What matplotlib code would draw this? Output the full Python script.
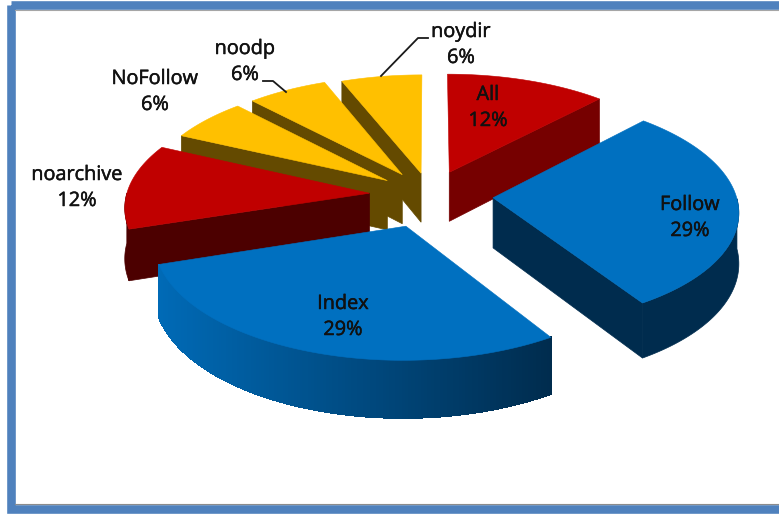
import numpy as np
import matplotlib
matplotlib.use("Agg")
import matplotlib.pyplot as plt
import matplotlib.patheffects as pe
from matplotlib.patches import Polygon, Rectangle
from matplotlib.collections import PolyCollection

names = ["All", "Follow", "Index", "noarchive", "NoFollow", "noodp", "noydir"]
values = [12, 29, 29, 12, 6, 6, 6]

# how far each slice is pulled out, in radii
explode = [0.22, 0.26, 0.285, 0.25, 0.22, 0.217, 0.2]

top_colors = ["#C00000", "#0070C0", "#0070C0", "#C00000", "#FFC000", "#FFC000", "#FFC000"]
cut_colors = ["#760000", "#002C4E", "#002C4E", "#4C0000", "#644A00", "#644A00", "#644A00"]

label_xy = [(488, 108), (690, 218), (343, 317), (77, 188), (155, 92), (245, 62), (461, 45)]

# camera, fitted by eye to the picture
CX, CY = 430, 195
R, SQUASH = 243, 0.465
PERSP = 0.105
DEPTH = 50


def project(u, v, down=0.0):
    p = 1 / (1 + PERSP * v)
    return np.column_stack([CX + R * u * p, CY - R * SQUASH * v * p + DEPTH * down * p])


def disc(a, e, mid):
    # a in degrees clockwise from 12 o'clock
    a = np.radians(a)
    m = np.radians(mid)
    return e * np.sin(m) + np.sin(a), e * np.cos(m) + np.cos(a)


def mix(c1, c2, t):
    c1 = np.array(matplotlib.colors.to_rgb(c1))
    c2 = np.array(matplotlib.colors.to_rgb(c2))
    return tuple(c1 + (c2 - c1) * t)


fig = plt.figure(figsize=(7.79, 5.14), dpi=100)
ax = fig.add_axes([0, 0, 1, 1])
ax.set_xlim(0, 779)
ax.set_ylim(514, 0)
ax.axis("off")

# frame, the right side runs off the picture
ax.add_patch(Rectangle((11, 5), 790, 503.5, fill=False, ec="#4F81BD", lw=6.2, joinstyle="miter", zorder=1))
ax.plot([15, 779], [9.8, 9.8], color="#A6A6A6", lw=0.8, zorder=1)
ax.plot([15, 779], [504, 504], color="#8C8C8C", lw=0.8, zorder=1)

edges = np.cumsum([0] + values) / sum(values) * 360
mids = (edges[:-1] + edges[1:]) / 2

# painter order, back slices first
order = [6, 5, 4, 3, 0, 1, 2]
z = 2
for i in order:
    a0, a1, mid, e = edges[i], edges[i + 1], mids[i], explode[i]
    apex_u = e * np.sin(np.radians(mid))
    apex_v = e * np.cos(np.radians(mid))
    arc = np.linspace(a0, a1, 160)
    u, v = disc(arc, e, mid)

    # flat cut faces that look towards the viewer
    for ang, show in ((a0, a0 > 180), (a1, a1 < 180)):
        if show:
            eu, ev = disc(ang, e, mid)
            pts = np.vstack([
                project(np.array([apex_u, eu]), np.array([apex_v, ev])),
                project(np.array([eu, apex_u]), np.array([ev, apex_v]), 1.0),
            ])
            ax.add_patch(Polygon(pts, fc=cut_colors[i], ec=cut_colors[i], lw=0.5, zorder=z))
            z += 1

    # outer wall, only the front half of the circle
    front = (arc >= 90) & (arc <= 270)
    if front.any():
        upper = project(u[front], v[front])
        lower = project(u[front], v[front], 1.0)
        if names[i] == "Index":
            # only this wall shows the shading going dark to the right
            quads = []
            colors = []
            xmin, xmax = upper[:, 0].min(), upper[:, 0].max()
            for k in range(len(upper) - 1):
                quads.append([upper[k], upper[k + 1], lower[k + 1], lower[k]])
                t = (upper[k, 0] - xmin) / (xmax - xmin)
                colors.append(mix("#006AB6", "#002C4E", t))
            ax.add_collection(PolyCollection(quads, facecolors=colors, edgecolors=colors,
                                             linewidths=0.6, antialiaseds=False, zorder=z))
        else:
            wall = np.vstack([upper, lower[::-1]])
            ax.add_patch(Polygon(wall, fc=cut_colors[i], ec=cut_colors[i], lw=0.5, zorder=z))
        z += 1

    # top of the slice
    top = np.vstack([project(np.array([apex_u]), np.array([apex_v])), project(u, v)])
    ax.add_patch(Polygon(top, fc=top_colors[i], ec=top_colors[i], lw=0.4, zorder=z))
    z += 1

# leader lines
ax.plot([381, 418, 428], [76, 38, 38], color="#1A1A1A", lw=1.3, zorder=z)
ax.plot([286, 273, 263], [92, 81, 81], color="#1A1A1A", lw=1.3, zorder=z)

for name, val, (x, y) in zip(names, values, label_xy):
    t = ax.text(x, y, f"{name}\n{val}%", ha="center", va="center", fontsize=14.3,
                family="Open Sans", color="#111111", linespacing=1.4, zorder=z + 1)
    t.set_path_effects([pe.withStroke(linewidth=0.35, foreground="#111111")])

fig.savefig("out.png", dpi=100)
